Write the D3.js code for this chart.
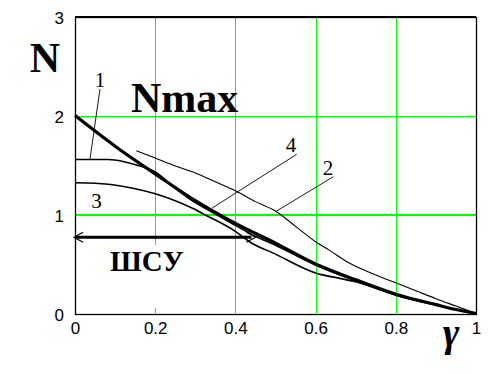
<!DOCTYPE html>
<html>
<head>
<meta charset="utf-8">
<script src="https://cdn.jsdelivr.net/npm/d3@7"></script>
<style>
  body { margin: 0; background: #fff; }
  svg { display: block; }
</style>
</head>
<body>
<svg id="chart" width="500" height="374"></svg>
<script>
// axis ticks
const gammaTicks = [0, 0.2, 0.4, 0.6, 0.8, 1];
const nTicks = [0, 1, 2, 3];
const gridX = [0.2, 0.4, 0.6, 0.8];
const gridY = [1, 2];

// curve 4 (thick)
const g4 = [0, 0.1, 0.2, 0.3, 0.4, 0.5, 0.6, 0.7, 0.8, 0.9, 0.95, 1];
const n4 = [2.0, 1.69, 1.41, 1.14, 0.91, 0.71, 0.50, 0.34, 0.195, 0.09, 0.04, 0];

// curve 1
const g1 = [0, 0.083, 0.12, 0.153, 0.2, 0.25, 0.3, 0.35, 0.4, 0.45, 0.5, 0.6, 0.7, 0.8, 0.9, 1];
const n1 = [1.555, 1.555, 1.535, 1.50, 1.43, 1.265, 1.12, 1.005, 0.89, 0.78, 0.69, 0.49, 0.33, 0.19, 0.085, 0];

// curve 2
const g2 = [0.153, 0.2, 0.25, 0.3, 0.35, 0.4, 0.45, 0.5, 0.55, 0.6, 0.634, 0.684, 0.75, 0.8, 0.85, 0.9, 0.95, 1];
const n2 = [1.645, 1.57, 1.49, 1.42, 1.33, 1.24, 1.13, 1.035, 0.88, 0.725, 0.64, 0.51, 0.39, 0.31, 0.23, 0.15, 0.075, 0];

// curve 3
const g3 = [0, 0.05, 0.083, 0.15, 0.2, 0.25, 0.3, 0.323, 0.4, 0.435, 0.5, 0.6, 0.66, 0.7, 0.8, 0.9, 1];
const n3 = [1.32, 1.315, 1.305, 1.26, 1.21, 1.14, 1.05, 1.0, 0.83, 0.725, 0.60, 0.41, 0.355, 0.32, 0.185, 0.085, 0];

// ШСУ range arrow
const arrowG = [0, 0.45];
const arrowN = 0.77;

const svg = d3.select('#chart');

const x = d3.scaleLinear().domain([0, 1]).range([75, 476]);
const y = d3.scaleLinear().domain([0, 3]).range([313.5, 16.5]);

const green = '#00ff00';
const snap = v => Math.round(v) + 0.5;

// grid
svg.selectAll('.gx')
    .data(gridX)
    .enter()
    .append('line')
    .attr('x1', d => snap(x(d))).attr('x2', d => snap(x(d)))
    .attr('y1', y(3)).attr('y2', y(0))
    .attr('stroke', green)
    .attr('stroke-width', 1);

svg.selectAll('.gy')
    .data(gridY)
    .enter()
    .append('line')
    .attr('x1', x(0)).attr('x2', x(1))
    .attr('y1', d => d === 1 ? Math.round(y(d)) : snap(y(d)))
    .attr('y2', d => d === 1 ? Math.round(y(d)) : snap(y(d)))
    .attr('stroke', green)
    .attr('stroke-width', d => d === 1 ? 2 : 1);

// white box behind ШСУ
svg.append('rect')
    .attr('x', 100).attr('y', 245)
    .attr('width', 100).attr('height', 63)
    .attr('fill', '#fff');

// frame
svg.append('rect')
    .attr('x', snap(x(0))).attr('y', snap(y(3)))
    .attr('width', Math.round(x(1) - x(0))).attr('height', Math.round(y(0) - y(3)))
    .attr('fill', 'none')
    .attr('stroke', '#000')
    .attr('stroke-width', 1.3);
svg.append('line')
    .attr('x1', x(0)).attr('x2', x(1))
    .attr('y1', Math.round(y(3))).attr('y2', Math.round(y(3)))
    .attr('stroke', '#000')
    .attr('stroke-width', 2);

// axes (labels only)
const xAxis = svg.append('g')
    .attr('transform', `translate(0,${y(0)})`)
    .call(d3.axisBottom(x).tickValues(gammaTicks).tickSize(0).tickPadding(8).tickFormat(d => d));
const yAxis = svg.append('g')
    .attr('transform', `translate(${x(0)},0)`)
    .call(d3.axisLeft(y).tickValues(nTicks).tickSize(0).tickPadding(11).tickFormat(d => d));
[xAxis, yAxis].forEach(a => {
    a.select('.domain').remove();
    a.selectAll('text')
        .attr('font-family', '"Liberation Sans", Arial, sans-serif')
        .attr('font-size', 17)
        .attr('fill', '#000');
});
yAxis.selectAll('text').attr('dy', '0.42em');

// curves
const line = d3.line().curve(d3.curveMonotoneX).x(d => x(d[0])).y(d => y(d[1]));
const curves = [
    { g: g2, n: n2, w: 1.1 },
    { g: g3, n: n3, w: 1.6 },
    { g: g1, n: n1, w: 1.6 },
    { g: g4, n: n4, w: 3.2 }
];
svg.selectAll('.curve')
    .data(curves)
    .enter()
    .append('path')
    .attr('d', c => line(c.g.map((v, i) => [v, c.n[i]])))
    .attr('fill', 'none')
    .attr('stroke', '#000')
    .attr('stroke-width', c => c.w)
    .attr('stroke-linejoin', 'round');

// arrow
svg.append('line')
    .attr('x1', x(arrowG[0])).attr('x2', x(arrowG[1]) - 4)
    .attr('y1', y(arrowN)).attr('y2', y(arrowN))
    .attr('stroke', '#000')
    .attr('stroke-width', 3.2);
const ay = y(arrowN);
svg.append('path')
    .attr('d', `M${x(arrowG[0]) + 8},${ay - 5}L${x(arrowG[0]) - 1},${ay}L${x(arrowG[0]) + 8},${ay + 5}`)
    .attr('fill', 'none').attr('stroke', '#000').attr('stroke-width', 1.2);
svg.append('path')
    .attr('d', `M${x(arrowG[1]) - 9},${ay - 5}L${x(arrowG[1])},${ay}L${x(arrowG[1]) - 9},${ay + 5}`)
    .attr('fill', 'none').attr('stroke', '#000').attr('stroke-width', 1.2);

// label pointers
const pointers = [
    [100, 89, 90, 159],
    [296.7, 154.3, 211.7, 208.3],
    [333.3, 176.7, 276.7, 211]
];
svg.selectAll('.ptr')
    .data(pointers)
    .enter()
    .append('line')
    .attr('x1', d => d[0]).attr('y1', d => d[1])
    .attr('x2', d => d[2]).attr('y2', d => d[3])
    .attr('stroke', '#000')
    .attr('stroke-width', 0.9);

const serif = '"Liberation Serif", "Times New Roman", serif';

// curve numbers
const nums = [['1', 100, 87], ['3', 96.5, 208], ['4', 291, 152], ['2', 328, 175]];
svg.selectAll('.num')
    .data(nums)
    .enter()
    .append('text')
    .attr('x', d => d[1]).attr('y', d => d[2])
    .attr('text-anchor', 'middle')
    .attr('font-family', serif)
    .attr('font-size', 21)
    .text(d => d[0]);

// big labels
svg.append('text')
    .attr('x', 45).attr('y', 72)
    .attr('text-anchor', 'middle')
    .attr('font-family', serif).attr('font-weight', 'bold').attr('font-size', 42)
    .text('N');
svg.append('text')
    .attr('x', 131).attr('y', 112)
    .attr('font-family', serif).attr('font-weight', 'bold').attr('font-size', 42)
    .text('Nmax');
svg.append('text')
    .attr('x', 110).attr('y', 271)
    .attr('font-family', serif).attr('font-weight', 'bold').attr('font-size', 29)
    .text('ШСУ');
svg.append('text')
    .attr('x', 451).attr('y', 346)
    .attr('text-anchor', 'middle')
    .attr('font-family', serif).attr('font-style', 'italic').attr('font-weight', 'bold').attr('font-size', 40)
    .text('γ');
</script>
</body>
</html>
